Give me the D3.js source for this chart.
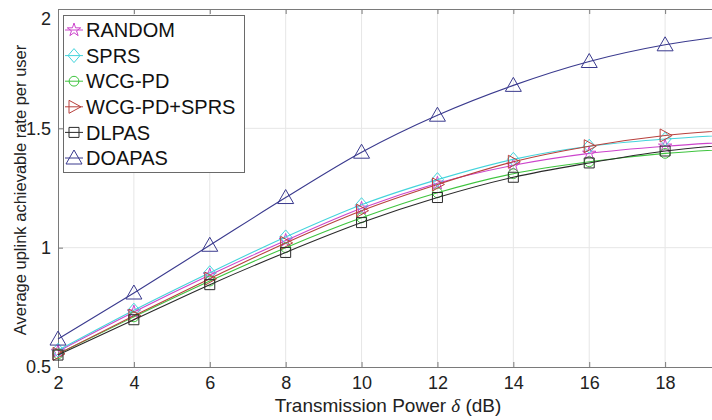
<!DOCTYPE html>
<html>
<head>
<meta charset="utf-8">
<script src="https://cdn.jsdelivr.net/npm/d3@7"></script>
<style>
    body { margin: 0; background: #fff; }
    svg { display: block; font-family: 'Liberation Sans', Arial, sans-serif; }
</style>
</head>
<body>
<script>
window.document.addEventListener('DOMContentLoaded', init, false);

var powers = [2, 4, 6, 8, 10, 12, 14, 16, 18, 20];
var xTicks = [2, 4, 6, 8, 10, 12, 14, 16, 18];
var yTicks = [0.5, 1, 1.5, 2];

var random = [0.565, 0.73, 0.885, 1.03, 1.165, 1.27, 1.345, 1.395, 1.425, 1.445];
var sprs = [0.57, 0.738, 0.895, 1.045, 1.18, 1.285, 1.37, 1.425, 1.455, 1.475];
var wcgpd = [0.555, 0.71, 0.86, 1.0, 1.125, 1.23, 1.31, 1.36, 1.395, 1.415];
var wcgpdSprs = [0.555, 0.715, 0.87, 1.02, 1.155, 1.265, 1.36, 1.425, 1.47, 1.495];
var dlpas = [0.55, 0.698, 0.845, 0.98, 1.105, 1.21, 1.295, 1.355, 1.405, 1.435];
var doapas = [0.617, 0.81, 1.01, 1.21, 1.40, 1.555, 1.68, 1.78, 1.85, 1.895];

var seriesNames = ['RANDOM', 'SPRS', 'WCG-PD', 'WCG-PD+SPRS', 'DLPAS', 'DOAPAS'];

var series = [
    { values: random, color: '#cc44cc', marker: 'star' },
    { values: sprs, color: '#44d4dc', marker: 'diamond' },
    { values: wcgpd, color: '#3ec43e', marker: 'circle' },
    { values: wcgpdSprs, color: '#b8403c', marker: 'right' },
    { values: dlpas, color: '#2a2a2a', marker: 'square' },
    { values: doapas, color: '#3a3a8e', marker: 'up' }
];

var width = 712, height = 420;
var plotLeft = 58, plotTop = 9, plotBottom = 367, plotRight = 741;

function init() {
    var svg = d3.select('body').append('svg')
        .attr('width', width)
        .attr('height', height);

    var x = d3.scaleLinear().domain([2, 20]).range([plotLeft, plotRight]);
    var y = d3.scaleLinear().domain([0.5, 2]).range([plotBottom, plotTop]);

    // grid
    svg.append('g').selectAll('line')
        .data(xTicks.slice(1))
        .enter().append('line')
        .attr('x1', (d) => x(d)).attr('x2', (d) => x(d))
        .attr('y1', plotTop).attr('y2', plotBottom)
        .attr('stroke', '#e6e6e6');
    svg.append('g').selectAll('line')
        .data(yTicks.slice(1, -1))
        .enter().append('line')
        .attr('x1', plotLeft).attr('x2', plotRight)
        .attr('y1', (d) => y(d)).attr('y2', (d) => y(d))
        .attr('stroke', '#e6e6e6');

    // axes, ticks inward like matlab
    var xAxis = svg.append('g')
        .attr('transform', `translate(0, ${plotBottom})`)
        .call(d3.axisBottom(x).tickValues(xTicks).tickSize(-5).tickPadding(9));
    var xTop = svg.append('g')
        .attr('transform', `translate(0, ${plotTop})`)
        .call(d3.axisTop(x).tickValues(xTicks).tickSize(-5).tickFormat(''));
    var yAxis = svg.append('g')
        .attr('transform', `translate(${plotLeft}, 0)`)
        .call(d3.axisLeft(y).tickValues(yTicks).tickSize(-5).tickPadding(7)
            .tickFormat((d) => String(d)));

    [xAxis, xTop, yAxis].forEach((g) => {
        g.select('.domain').attr('stroke', '#7a7a7a');
        g.selectAll('.tick line').attr('stroke', '#7a7a7a');
        g.selectAll('text')
            .attr('fill', '#222')
            .attr('font-size', '18px')
            .attr('font-family', "'Liberation Sans', Arial, sans-serif");
    });
    yAxis.selectAll('.tick text')
        .filter((d) => d === 2)
        .attr('dy', '0.85em');

    // lines and markers
    var line = d3.line()
        .x((d, i) => x(powers[i]))
        .y((d) => y(d))
        .curve(d3.curveMonotoneX);

    var groups = svg.selectAll('.series')
        .data(series)
        .enter().append('g')
        .attr('class', 'series');

    groups.append('path')
        .attr('d', (d) => line(d.values))
        .attr('fill', 'none')
        .attr('stroke', (d) => d.color)
        .attr('stroke-width', 1.1);

    groups.each(function (s) {
        d3.select(this).selectAll('.mk')
            .data(s.values)
            .enter().append('path')
            .attr('class', 'mk')
            .attr('transform', (d, i) => `translate(${x(powers[i])}, ${y(d)})`)
            .attr('d', markerPath(s.marker))
            .attr('fill', 'none')
            .attr('stroke', s.color)
            .attr('stroke-width', 1);
    });

    createLegend(svg);

    svg.append('text')
        .attr('x', 388)
        .attr('y', 412)
        .attr('text-anchor', 'middle')
        .attr('font-size', '19px')
        .attr('fill', '#222')
        .html('Transmission Power <tspan font-family="\'Liberation Serif\', serif" font-style="italic">δ</tspan> (dB)');

    svg.append('text')
        .attr('transform', 'translate(26, 190) rotate(-90)')
        .attr('text-anchor', 'middle')
        .attr('font-size', '16.5px')
        .attr('fill', '#222')
        .text('Average uplink achievable rate per user');
}

function markerPath(type) {
    if (type === 'star') {
        return d3.symbol().type(d3.symbolStar).size(55)();
    }
    if (type === 'diamond') {
        return 'M0,-7L6,0L0,7L-6,0Z';
    }
    if (type === 'circle') {
        return d3.symbol().type(d3.symbolCircle).size(75)();
    }
    if (type === 'right') {
        return 'M-5,-6.5L7,0L-5,6.5Z';
    }
    if (type === 'square') {
        return 'M-5,-5H5V5H-5Z';
    }
    return 'M0,-8L8,6L-8,6Z';
}

function createLegend(svg) {
    var legend = svg.append('g');
    legend.append('rect')
        .attr('x', 63.5).attr('y', 15.5)
        .attr('width', 181).attr('height', 157)
        .attr('fill', '#fff')
        .attr('stroke', '#6a6a6a');

    var rows = legend.selectAll('.row')
        .data(series)
        .enter().append('g')
        .attr('class', 'row')
        .attr('transform', (d, i) => `translate(74, ${30 + i * 25.6})`);

    rows.append('line')
        .attr('x1', -9).attr('x2', 9)
        .attr('stroke', (d) => d.color);
    rows.append('path')
        .attr('d', (d) => markerPath(d.marker))
        .attr('fill', 'none')
        .attr('stroke', (d) => d.color);
    rows.append('text')
        .attr('x', 12)
        .attr('dy', '0.36em')
        .attr('font-size', '20px')
        .attr('fill', '#111')
        .text((d, i) => seriesNames[i]);
}
</script>
</body>
</html>
